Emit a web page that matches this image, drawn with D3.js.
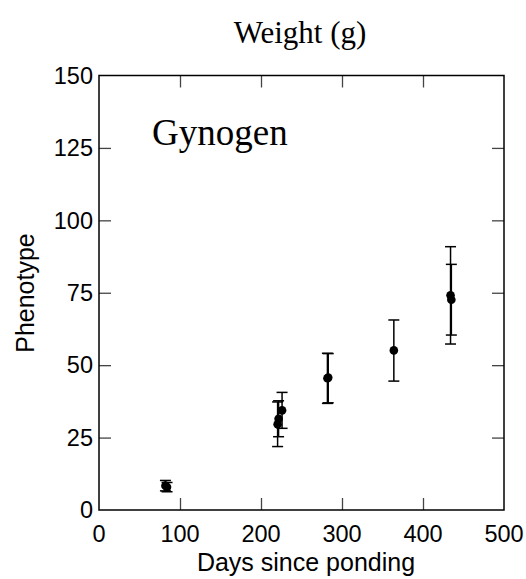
<!DOCTYPE html>
<html><head><meta charset="utf-8">
<script src="https://cdn.jsdelivr.net/npm/d3@7"></script>
<style>body{margin:0;background:#fff}</style>
</head><body>
<svg id="c" width="526" height="579"></svg>
<script>
// data
const days = [82, 84, 220.5, 221.7, 226, 282, 283, 364, 434, 435];
const phenotype = [8.4, 7.9, 29.6, 31.5, 34.4, 45.5, 45.7, 55.1, 74.1, 72.6];
const errLow = [6.6, 6.3, 21.9, 25.3, 28.2, 36.8, 37.0, 44.5, 57.3, 60.4];
const errHigh = [10.2, 9.5, 37.3, 37.7, 40.6, 54.1, 54.0, 65.6, 90.9, 84.8];
const xTicks = [0, 100, 200, 300, 400, 500];
const yTicks = [0, 25, 50, 75, 100, 125, 150];

const svg = d3.select("#c");
const L = 99, R = 504, T = 75.5, B = 510;
const x = d3.scaleLinear().domain([0, 500]).range([L, R]);
const y = d3.scaleLinear().domain([0, 150]).range([B, T]);
const sans = "Liberation Sans, Arial, sans-serif";
const serif = "Liberation Serif, Times New Roman, serif";

// axes
const tl = 12;
function styleAxis(g){ g.select(".domain").remove(); g.selectAll("line").attr("stroke","#444").attr("stroke-width",1.3); g.selectAll("text").remove(); }
svg.append("g").attr("transform",`translate(0,${B})`).call(d3.axisTop(x).tickValues(xTicks.slice(1,-1)).tickSize(tl)).call(styleAxis);
svg.append("g").attr("transform",`translate(0,${T})`).call(d3.axisBottom(x).tickValues(xTicks.slice(1,-1)).tickSize(tl)).call(styleAxis);
svg.append("g").attr("transform",`translate(${L},0)`).call(d3.axisRight(y).tickValues(yTicks.slice(1,-1)).tickSize(tl)).call(styleAxis);
svg.append("g").attr("transform",`translate(${R},0)`).call(d3.axisLeft(y).tickValues(yTicks.slice(1,-1)).tickSize(tl)).call(styleAxis);
svg.append("rect").attr("x",L).attr("y",T).attr("width",R-L).attr("height",B-T).attr("fill","none").attr("stroke","#000").attr("stroke-width",1.5);

// tick labels
svg.append("g").selectAll("text").data(xTicks).join("text")
  .attr("x",d=>x(d)).attr("y",B+32).attr("text-anchor","middle")
  .attr("font-family",sans).attr("font-size",23.5).text(d=>d);
svg.append("g").selectAll("text").data(yTicks).join("text")
  .attr("x",L-6).attr("y",d=>y(d)).attr("dy","0.35em").attr("text-anchor","end")
  .attr("font-family",sans).attr("font-size",23.5).text(d=>d);

// titles
svg.append("text").attr("x",306).attr("y",571).attr("text-anchor","middle")
  .attr("font-family",sans).attr("font-size",25).text("Days since ponding");
svg.append("text").attr("transform","translate(34,293) rotate(-90)").attr("text-anchor","middle")
  .attr("font-family",sans).attr("font-size",25).text("Phenotype");
svg.append("text").attr("x",300).attr("y",43).attr("text-anchor","middle")
  .attr("font-family",serif).attr("font-size",31).text("Weight (g)");
svg.append("text").attr("x",152).attr("y",145)
  .attr("font-family",serif).attr("font-size",37).text("Gynogen");

// data marks
const idx = d3.range(days.length);
const g = svg.append("g").attr("stroke","#000").attr("stroke-width",1.5);
g.selectAll("line.v").data(idx).join("line").attr("class","v")
  .attr("x1",i=>x(days[i])).attr("x2",i=>x(days[i])).attr("y1",i=>y(errLow[i])).attr("y2",i=>y(errHigh[i]));
g.selectAll("line.lo").data(idx).join("line").attr("class","lo")
  .attr("x1",i=>x(days[i])-5.5).attr("x2",i=>x(days[i])+5.5).attr("y1",i=>y(errLow[i])).attr("y2",i=>y(errLow[i]));
g.selectAll("line.hi").data(idx).join("line").attr("class","hi")
  .attr("x1",i=>x(days[i])-5.5).attr("x2",i=>x(days[i])+5.5).attr("y1",i=>y(errHigh[i])).attr("y2",i=>y(errHigh[i]));
svg.append("g").selectAll("circle").data(idx).join("circle")
  .attr("cx",i=>x(days[i])).attr("cy",i=>y(phenotype[i])).attr("r",4.3).attr("fill","#000");
</script>
</body></html>
